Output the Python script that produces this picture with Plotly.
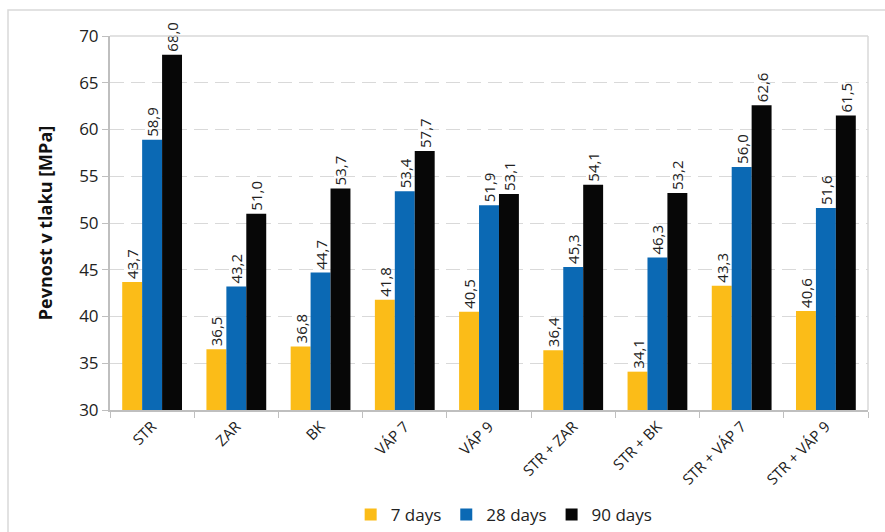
import plotly.graph_objects as go

categories = ["STR", "ZAR", "BK", "VÁP 7", "VÁP 9", "STR + ZAR", "STR + BK", "STR + VÁP 7", "STR + VÁP 9"]
days7 = [43.7, 36.5, 36.8, 41.8, 40.5, 36.4, 34.1, 43.3, 40.6]
days28 = [58.9, 43.2, 44.7, 53.4, 51.9, 45.3, 46.3, 56.0, 51.6]
days90 = [68.0, 51.0, 53.7, 57.7, 53.1, 54.1, 53.2, 62.6, 61.5]
series_names = ["7 days", "28 days", "90 days"]
colors = ["#FBBC18", "#0B69B4", "#070707"]
y_base = 30

def fmt(v):
    return f"{v:.1f}".replace(".", ",")

FONT = "Open Sans"
fig = go.Figure()
for name, vals, col in zip(series_names, [days7, days28, days90], colors):
    fig.add_trace(go.Bar(
        x=categories, y=[v - y_base for v in vals], base=y_base,
        name=name, marker_color=col, marker_line_width=0,
        text=[fmt(v) for v in vals], textposition="outside", textangle=-90,
        constraintext="none",
        textfont=dict(family=FONT, size=15, color="#222222"),
        cliponaxis=False,
        hovertemplate="%{x}: %{text}<extra></extra>",
    ))

fig.update_layout(
    width=885, height=532,
    margin=dict(l=110, r=17, t=36, b=122),
    paper_bgcolor="white", plot_bgcolor="white",
    barmode="group", bargap=0.29, bargroupgap=0,
    font=dict(family=FONT, color="#222222"),
    showlegend=True,
    legend=dict(orientation="h", x=0.52, xanchor="center",
                yref="container", y=(532 - 515) / 532, yanchor="middle",
                font=dict(family=FONT, size=17, color="#222222"),
                traceorder="normal", itemwidth=30),
)
fig.update_yaxes(
    range=[30, 70], tick0=30, dtick=5, automargin=False,
    showgrid=True, gridcolor="#D9D9D9", griddash="14px,7px", gridwidth=1.3,
    showline=True, linecolor="#BFBFBF", linewidth=2,
    ticks="outside", ticklen=6, tickcolor="#BFBFBF",
    tickfont=dict(family=FONT, size=17, color="#222222"),
    zeroline=False,
    title=dict(text="<b>Pevnost v tlaku [MPa]</b>", font=dict(family=FONT, size=18, color="#111111"), standoff=22),
)
fig.update_xaxes(
    showline=True, linecolor="#BFBFBF", linewidth=2, automargin=False,
    ticks="outside", ticklen=6, tickcolor="#BFBFBF", tickson="boundaries",
    tickangle=-45, tickfont=dict(family=FONT, size=15, color="#222222"),
    showgrid=False,
)
fig.add_shape(type="line", xref="paper", yref="paper", x0=0, x1=1, y0=1, y1=1,
              line=dict(color="#D9D9D9", width=1.5))
fig.add_shape(type="line", xref="paper", yref="paper", x0=1, x1=1, y0=0, y1=1,
              line=dict(color="#D9D9D9", width=1.5))
fig.add_shape(type="rect", xref="paper", yref="paper",
              x0=(8 - 110) / 758, x1=(900 - 110) / 758,
              y0=-(540 - 410) / 374, y1=1 + (36 - 10) / 374,
              line=dict(color="#D9D9D9", width=1.5), layer="below")

fig.write_html("out.html")
